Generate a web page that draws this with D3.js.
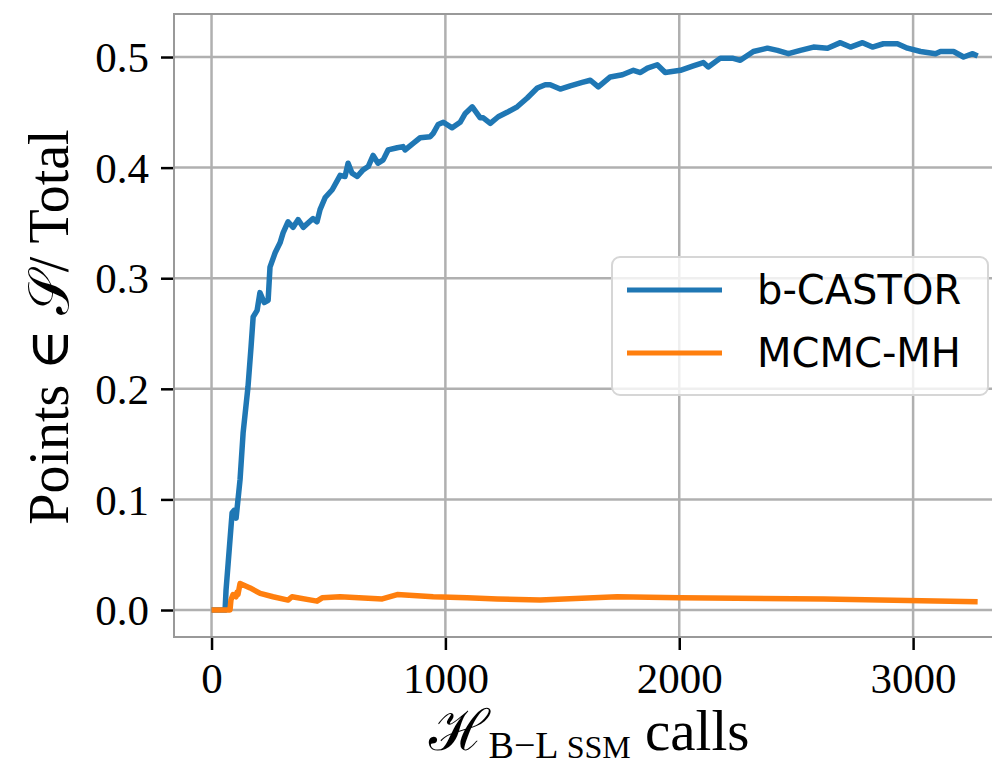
<!DOCTYPE html>
<html>
<head>
<meta charset="utf-8">
<script src="https://d3js.org/d3.v7.min.js"></script>
<style>
body { margin: 0; background: #fff; }
</style>
</head>
<body>
<svg id="chart" width="992" height="768"></svg>
<script>
// b-CASTOR curve
var castorX = [0, 58, 62, 71, 88, 96, 105, 122, 135, 156, 169, 178, 195, 207, 225, 242, 250, 272, 293, 306, 327, 349, 370, 392, 434, 451, 464, 486, 516, 550, 571, 584, 601, 623, 648, 670, 691, 712, 734, 755, 794, 819, 828, 862, 892, 935, 948, 969, 991, 1029, 1063, 1085, 1115, 1149, 1162, 1192, 1226, 1264, 1307, 1350, 1393, 1427, 1448, 1491, 1534, 1585, 1620, 1654, 1705, 1757, 1804, 1834, 1864, 1906, 1940, 2005, 2060, 2103, 2124, 2176, 2227, 2261, 2317, 2377, 2420, 2467, 2518, 2574, 2634, 2689, 2732, 2784, 2826, 2873, 2933, 2976, 3032, 3096, 3117, 3173, 3216, 3255, 3276];
var castorY = [0, 0, 0.018, 0.042, 0.088, 0.090, 0.083, 0.118, 0.160, 0.202, 0.238, 0.265, 0.271, 0.287, 0.278, 0.280, 0.310, 0.323, 0.332, 0.341, 0.351, 0.346, 0.353, 0.346, 0.354, 0.351, 0.362, 0.373, 0.380, 0.393, 0.392, 0.404, 0.395, 0.392, 0.398, 0.401, 0.411, 0.404, 0.407, 0.416, 0.418, 0.419, 0.416, 0.422, 0.427, 0.428, 0.431, 0.439, 0.441, 0.436, 0.441, 0.449, 0.455, 0.445, 0.445, 0.440, 0.446, 0.450, 0.455, 0.463, 0.472, 0.475, 0.475, 0.471, 0.474, 0.477, 0.479, 0.473, 0.482, 0.484, 0.488, 0.486, 0.490, 0.493, 0.486, 0.488, 0.492, 0.495, 0.491, 0.499, 0.499, 0.497, 0.505, 0.508, 0.506, 0.503, 0.506, 0.509, 0.508, 0.513, 0.509, 0.513, 0.509, 0.512, 0.512, 0.508, 0.505, 0.503, 0.505, 0.505, 0.500, 0.503, 0.501];

// MCMC-MH curve
var mcmcX = [0, 79, 83, 92, 105, 109, 113, 122, 165, 208, 263, 327, 344, 451, 473, 550, 730, 794, 948, 1093, 1222, 1405, 1735, 2005, 2617, 3276];
var mcmcY = [0, 0, 0.009, 0.014, 0.012, 0.016, 0.014, 0.024, 0.020, 0.015, 0.012, 0.009, 0.012, 0.008, 0.011, 0.012, 0.010, 0.014, 0.012, 0.011, 0.010, 0.009, 0.012, 0.011, 0.010, 0.0075];

var xTicks = [0, 1000, 2000, 3000];
var yTicks = [0, 0.1, 0.2, 0.3, 0.4, 0.5];
var seriesNames = ["b-CASTOR", "MCMC-MH"];
var seriesColors = ["#1f77b4", "#ff7f0e"];

var svg = d3.select("#chart");
// plot box (right edge runs off the picture)
var pLeft = 174, pTop = 14, pBottom = 637, pRight = 1016;

var x = d3.scaleLinear().domain([-160.5, 3440]).range([pLeft, pRight]);
var y = d3.scaleLinear().domain([-0.0244, 0.5389]).range([pBottom, pTop]);

svg.append("rect").attr("width", 992).attr("height", 768).attr("fill", "#fff");

// grid
var grid = svg.append("g");
grid.selectAll(".vg").data(xTicks).enter().append("line")
    .attr("x1", d => x(d)).attr("x2", d => x(d))
    .attr("y1", pTop).attr("y2", pBottom)
    .attr("stroke", "#b0b0b0").attr("stroke-width", 2.5);
grid.selectAll(".hg").data(yTicks).enter().append("line")
    .attr("x1", pLeft).attr("x2", pRight)
    .attr("y1", d => y(d)).attr("y2", d => y(d))
    .attr("stroke", "#b0b0b0").attr("stroke-width", 2.5);

// axes
var xAxis = svg.append("g")
    .attr("transform", "translate(0," + pBottom + ")")
    .call(d3.axisBottom(x).tickValues(xTicks).tickSize(13).tickPadding(12).tickFormat(d3.format("d")));
var yAxis = svg.append("g")
    .attr("transform", "translate(" + pLeft + ",0)")
    .call(d3.axisLeft(y).tickValues(yTicks).tickSize(13).tickPadding(12).tickFormat(d3.format(".1f")));

[xAxis, yAxis].forEach(function(a) {
    a.select(".domain").remove();
    a.selectAll(".tick line").attr("stroke", "#000").attr("stroke-width", 2.5);
    a.selectAll(".tick text")
        .attr("fill", "#000")
        .style("font-family", "'Liberation Serif', 'DejaVu Serif', serif")
        .style("font-size", "43px");
});
yAxis.selectAll(".tick text").attr("dy", "0.34em");

// frame
svg.append("rect")
    .attr("x", pLeft).attr("y", pTop)
    .attr("width", pRight - pLeft).attr("height", pBottom - pTop)
    .attr("fill", "none").attr("stroke", "#999").attr("stroke-width", 2);

// lines
var line = d3.line().x(d => x(d[0])).y(d => y(d[1]));
var castor = castorX.map((v, i) => [v, castorY[i]]);
var mcmc = mcmcX.map((v, i) => [v, mcmcY[i]]);

svg.append("path").datum(castor)
    .attr("d", line)
    .attr("fill", "none").attr("stroke", seriesColors[0])
    .attr("stroke-width", 5.5).attr("stroke-linejoin", "round");
svg.append("path").datum(mcmc)
    .attr("d", line)
    .attr("fill", "none").attr("stroke", seriesColors[1])
    .attr("stroke-width", 5.5).attr("stroke-linejoin", "round");

// legend
var lg = svg.append("g");
lg.append("rect")
    .attr("x", 612).attr("y", 257).attr("width", 376).attr("height", 138)
    .attr("rx", 8).attr("ry", 8)
    .attr("fill", "#fff").attr("fill-opacity", 0.8)
    .attr("stroke", "#d6d6d6").attr("stroke-width", 2);
seriesNames.forEach(function(name, i) {
    var ly = 290 + i * 63;
    lg.append("line")
        .attr("x1", 627).attr("x2", 722).attr("y1", ly).attr("y2", ly)
        .attr("stroke", seriesColors[i]).attr("stroke-width", 5);
    lg.append("text")
        .attr("x", 757).attr("y", ly).attr("dy", "0.36em")
        .style("font-family", "'DejaVu Sans', sans-serif")
        .style("font-size", "40px")
        .attr("fill", "#000")
        .text(name);
});

// axis labels
var xl = svg.append("text")
    .attr("x", 589).attr("y", 750)
    .attr("text-anchor", "middle")
    .style("font-family", "'Liberation Serif', 'DejaVu Serif', serif")
    .style("font-size", "57px");
xl.append("tspan").text("\u210B");
xl.append("tspan").attr("dy", 8).style("font-size", "38px").text("B\u2212L ");
xl.append("tspan").style("font-size", "32px").text("SSM");
xl.append("tspan").attr("dy", -8).text(" calls");

var yl = svg.append("text")
    .attr("transform", "translate(68,327) rotate(-90)")
    .attr("text-anchor", "middle")
    .style("font-family", "'Liberation Serif', 'DejaVu Serif', serif")
    .style("font-size", "56px");
yl.append("tspan").text("Points \u2208 ");
yl.append("tspan").text("\uD835\uDCAE");
yl.append("tspan").text("/ Total");
</script>
</body>
</html>
